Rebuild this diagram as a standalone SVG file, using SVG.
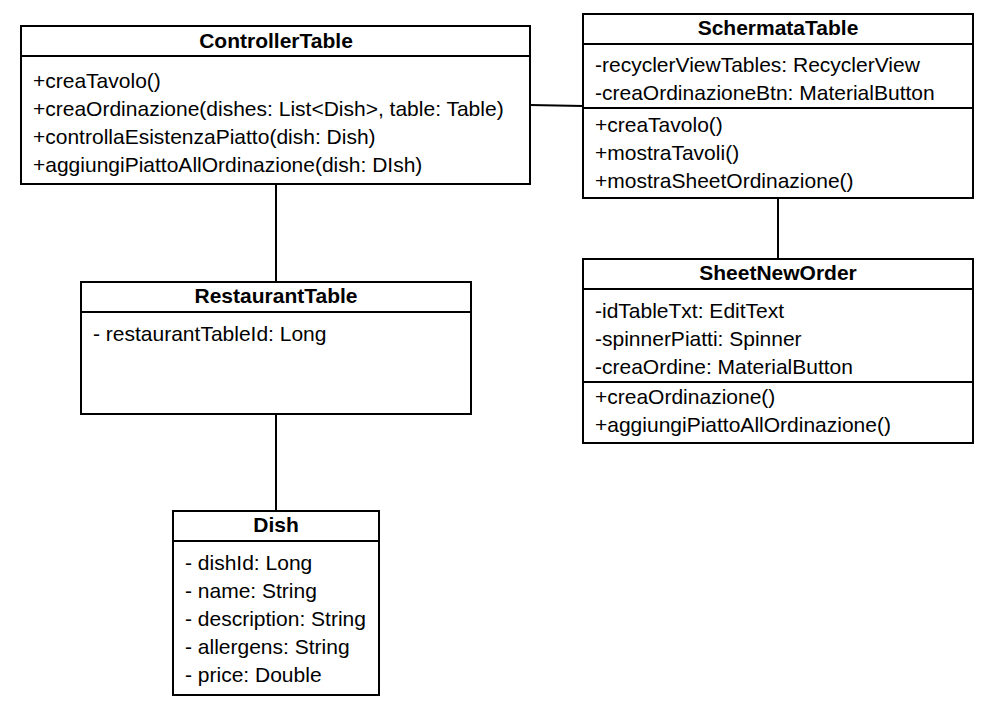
<svg xmlns="http://www.w3.org/2000/svg" width="991" height="710" viewBox="0 0 991 710">
<style>
.box{fill:#fff;stroke:#000;stroke-width:2}
.sep{stroke:#000;stroke-width:2;fill:none}
.conn{stroke:#000;stroke-width:2;fill:none}
.title{font-family:"Liberation Sans",Arial,sans-serif;font-size:21px;font-weight:bold;text-anchor:middle;fill:#000}
.t{font-family:"Liberation Sans",Arial,sans-serif;font-size:21px;fill:#000}
</style>
<rect width="991" height="710" fill="#fff"/>
<g id="connectors">
<line class="conn" x1="276" y1="184" x2="276" y2="282"/>
<line class="conn" x1="276" y1="414" x2="276" y2="511"/>
<line class="conn" x1="530" y1="105" x2="583" y2="106"/>
<line class="conn" x1="778" y1="198" x2="778" y2="259"/>
</g>
<g id="ControllerTable">
<rect class="box" x="21" y="26" width="509" height="158"/>
<line class="sep" x1="21" y1="56" x2="530" y2="56"/>
<text class="title" x="276" y="48">ControllerTable</text>
<text class="t" x="33" y="88">+creaTavolo()</text>
<text class="t" x="33" y="116">+creaOrdinazione(dishes: List&lt;Dish&gt;, table: Table)</text>
<text class="t" x="33" y="144">+controllaEsistenzaPiatto(dish: Dish)</text>
<text class="t" x="33" y="172">+aggiungiPiattoAllOrdinazione(dish: DIsh)</text>
</g>
<g id="SchermataTable">
<rect class="box" x="583" y="14" width="390" height="184"/>
<line class="sep" x1="583" y1="44" x2="973" y2="44"/>
<line class="sep" x1="583" y1="108" x2="973" y2="108"/>
<text class="title" x="778" y="35">SchermataTable</text>
<text class="t" x="595" y="72">-recyclerViewTables: RecyclerView</text>
<text class="t" x="595" y="100">-creaOrdinazioneBtn: MaterialButton</text>
<text class="t" x="595" y="132">+creaTavolo()</text>
<text class="t" x="595" y="160">+mostraTavoli()</text>
<text class="t" x="595" y="188">+mostraSheetOrdinazione()</text>
</g>
<g id="SheetNewOrder">
<rect class="box" x="583" y="259" width="390" height="184"/>
<line class="sep" x1="583" y1="289" x2="973" y2="289"/>
<line class="sep" x1="583" y1="382" x2="973" y2="382"/>
<text class="title" x="778" y="280">SheetNewOrder</text>
<text class="t" x="595" y="318">-idTableTxt: EditText</text>
<text class="t" x="595" y="346">-spinnerPiatti: Spinner</text>
<text class="t" x="595" y="374">-creaOrdine: MaterialButton</text>
<text class="t" x="595" y="404">+creaOrdinazione()</text>
<text class="t" x="595" y="432">+aggiungiPiattoAllOrdinazione()</text>
</g>
<g id="RestaurantTable">
<rect class="box" x="81" y="282" width="390" height="132"/>
<line class="sep" x1="81" y1="312" x2="471" y2="312"/>
<text class="title" x="276" y="303">RestaurantTable</text>
<text class="t" x="93" y="341">- restaurantTableId: Long</text>
</g>
<g id="Dish">
<rect class="box" x="173" y="511" width="206" height="184"/>
<line class="sep" x1="173" y1="541" x2="379" y2="541"/>
<text class="title" x="276" y="532">Dish</text>
<text class="t" x="185" y="570">- dishId: Long</text>
<text class="t" x="185" y="598">- name: String</text>
<text class="t" x="185" y="626">- description: String</text>
<text class="t" x="185" y="654">- allergens: String</text>
<text class="t" x="185" y="682">- price: Double</text>
</g>
</svg>
